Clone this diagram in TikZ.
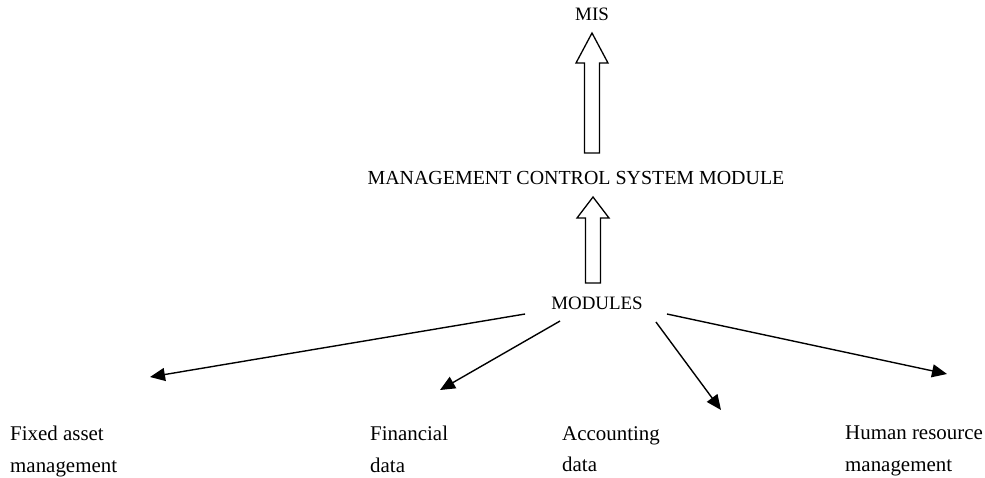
\documentclass[tikz,border=0pt]{standalone}
\usepackage{fontspec}
\setmainfont{Liberation Serif}
\usetikzlibrary{positioning, arrows.meta, calc}

% hollow block arrow: bottom, tip, head length
\newcommand{\fatarrow}[3]{%
  \draw[fatline] ($(#1)+(-7.5,0)$) -- ($(#2)+(-7.5,#3)$) -- ($(#2)+(-16,#3)$) -- (#2)
    -- ($(#2)+(16,#3)$) -- ($(#2)+(7.5,#3)$) -- ($(#1)+(7.5,0)$) -- cycle;}

\begin{document}
\begin{tikzpicture}[x=1bp, y=-1bp,
    label/.style={inner sep=0pt, font=\fontsize{19}{32}\selectfont},
    leaf/.style={inner sep=0pt, font=\fontsize{21}{32}\selectfont, anchor=north west, align=left},
    fatline/.style={line width=1.3pt, fill=white},
    thinarrow/.style={line width=1.4pt, -{Triangle[length=15bp,width=13bp]}}]
  \useasboundingbox (0,0) rectangle (985,478);

  % titles
  \node[label] (mis) at (592,14) {MIS};
  \node[label, font=\fontsize{20}{24}\selectfont] (mcs) at (576,178) {MANAGEMENT CONTROL SYSTEM MODULE};
  \node[label] (mod) at (597,303) {MODULES};

  % block arrows
  \coordinate (b1) at (592,153);
  \coordinate (t1) at (592,33);
  \coordinate (b2) at (593,283);
  \coordinate (t2) at (593,197);
  \fatarrow{b1}{t1}{30}
  \fatarrow{b2}{t2}{21}

  % leaves
  \node[leaf] (fam) at (10,426) {Fixed asset\\management};
  \node[leaf] (fin) at (370,426) {Financial\\data};
  \node[leaf] (acc) at (562,426) {Accounting\\data};
  \node[leaf] (hrm) at (845,426) {Human resource\\management};

  % arrow ends
  \coordinate (s1) at ($(mod.west)+(-26,11)$);
  \coordinate (s2) at ($(mod.west)+(9,18)$);
  \coordinate (s3) at ($(mod.east)+(13,19)$);
  \coordinate (s4) at ($(mod.east)+(24,11)$);
  \coordinate (e1) at (150,377);
  \coordinate (e2) at (440,390);
  \coordinate (e3) at (721,410);
  \coordinate (e4) at (947,374);

  \draw[thinarrow] (s1) -- (e1);
  \draw[thinarrow] (s2) -- (e2);
  \draw[thinarrow] (s3) -- (e3);
  \draw[thinarrow] (s4) -- (e4);
\end{tikzpicture}
\end{document}
